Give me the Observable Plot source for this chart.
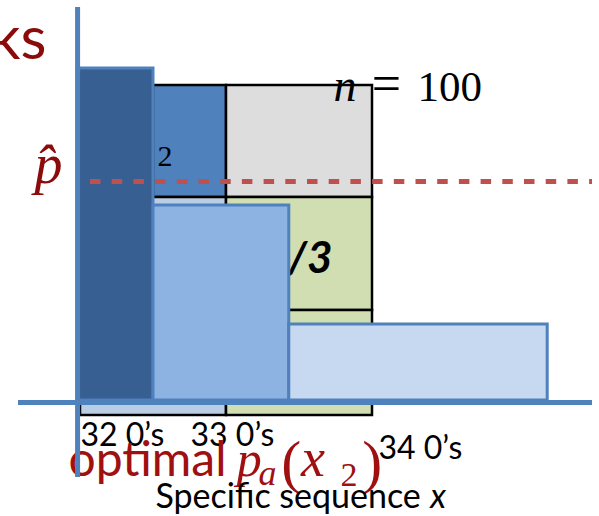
<!DOCTYPE html>
<html>
<head>
<meta charset="utf-8">
<script src="https://cdn.jsdelivr.net/npm/d3@7"></script>
<script src="https://cdn.jsdelivr.net/npm/@observablehq/plot@0.6"></script>
<style>
  body { margin: 0; background: white; }
</style>
</head>
<body>
<div id="chart"></div>
<script>
// ---- data (diagram units: x = grid columns, y = bar height) ----
const barLabels  = ["32 0’s", "33 0’s", "34 0’s"];
const barStart   = [-0.04, 1, 2.86];
const barEnd     = [1, 2.86, 6.4];
const barHeight  = [3.32, 1.95, 0.76];
const barColors  = ["#375F92", "#8DB3E2", "#C6D9F1"];

const pHat = 2.19;

// grid cells behind the bars: [x1, x2, y1, y2]
const cellX1 = [0, 1, 2, 0, 2, 2];
const cellX2 = [1, 2, 4, 2, 4, 4];
const cellY1 = [2.03, 2.03, 2.03, -0.15, 0.9, -0.15];
const cellY2 = [3.15, 3.15, 3.15, 2.03, 2.03, 0.9];
const cellColors = ["#4F81BD", "#4F81BD", "#DDDDDD", "#B9CDE5", "#D1DEB1", "#D1DEB1"];

const labelX = [0, 1.507, 4.082];
const labelY = [-0.45, -0.45, -0.58];

// ---- tables built from the arrays ----
const bars = barLabels.map((label, i) => ({label, x1: barStart[i], x2: barEnd[i], h: barHeight[i], fill: barColors[i]}));
const cells = cellX1.map((x1, i) => ({x1, x2: cellX2[i], y1: cellY1[i], y2: cellY2[i], fill: cellColors[i]}));
const ticks = barLabels.map((t, i) => ({t, x: labelX[i], y: labelY[i]}));

const serif = "'Liberation Serif', 'DejaVu Serif', serif";
const sans = "Lato, 'Open Sans', sans-serif";

const plot = Plot.plot({
  width: 599,
  height: 516,
  margin: 0,
  x: {type: "linear", domain: [0, 4], range: [80, 372], axis: null},
  y: {type: "linear", domain: [0, 3], range: [400, 100], axis: null},
  color: {type: "identity"},
  marks: [
    // grid of cells
    Plot.rect(cells, {x1: "x1", x2: "x2", y1: "y1", y2: "y2", fill: "fill", stroke: "black", strokeWidth: 2.5}),
    // texts in the grid
    Plot.text([{t: "2", x: 1.055, y: 2.35}], {x: "x", y: "y", text: "t", textAnchor: "start", lineAnchor: "bottom", fontFamily: serif, fontSize: 30, fill: "black"}),
    Plot.text([{t: "1/3", x: 3.452, y: 1.28}], {x: "x", y: "y", text: "t", textAnchor: "end", lineAnchor: "bottom", fontFamily: sans, fontSize: 44, fontWeight: "bold", fontStyle: "italic", fill: "black"}),
    Plot.text([{t: "n", x: 3.466, y: 3.0}], {x: "x", y: "y", text: "t", textAnchor: "start", lineAnchor: "bottom", fontFamily: serif, fontSize: 46, fontStyle: "italic", fill: "black"}),
    Plot.text([{t: "=", x: 3.99, y: 3.0, s: 52}, {t: "100", x: 4.616, y: 3.0, s: 43}], {x: "x", y: "y", text: "t", fontSize: "s", textAnchor: "start", lineAnchor: "bottom", fontFamily: serif, fill: "black"}),
    // bars
    Plot.rect(bars, {x1: "x1", x2: "x2", y1: 0, y2: "h", fill: "fill", stroke: "#4F81BD", strokeWidth: 3, ariaLabel: "bars"}),
    // p-hat threshold
    Plot.ruleY([pHat], {x1: 0.137, x2: 7.014, stroke: "#C0504D", strokeWidth: 5, strokeDasharray: "10.5,11.2"}),
    Plot.text([{t: "p̂", x: -0.63, y: 2.18}], {x: "x", y: "y", text: "t", textAnchor: "start", lineAnchor: "bottom", fontFamily: serif, fontSize: 56, fontStyle: "italic", fill: "#8B0A0A"}),
    // title fragment
    Plot.text([{t: "ks", x: -0.465, y: 3.42}], {x: "x", y: "y", text: "t", textAnchor: "end", lineAnchor: "bottom", fontFamily: sans, fontSize: 60, fill: "#8B0A0A"}),
    // tick labels
    Plot.text(ticks, {x: "x", y: "y", text: "t", textAnchor: "start", lineAnchor: "bottom", fontFamily: sans, fontSize: 32, fill: "black"}),
    // optimal p_a(x_2)
    Plot.text([{t: "optimal", x: 2.0, y: -0.75}], {x: "x", y: "y", text: "t", textAnchor: "end", lineAnchor: "bottom", fontFamily: sans, fontSize: 48, fill: "#A01010"}),
    Plot.text([{t: "p", x: 2.14, y: -0.75, s: 50}, {t: "a", x: 2.44, y: -0.84, s: 36}, {t: "x", x: 3.02, y: -0.75, s: 54}],
      {x: "x", y: "y", text: "t", fontSize: "s", textAnchor: "start", lineAnchor: "bottom", fontFamily: serif, fontStyle: "italic", fill: "#A01010"}),
    Plot.text([{t: "(", x: 2.75, y: -0.81, s: 60}, {t: "2", x: 3.56, y: -0.855, s: 34}, {t: ")", x: 3.86, y: -0.81, s: 60}],
      {x: "x", y: "y", text: "t", fontSize: "s", textAnchor: "start", lineAnchor: "bottom", fontFamily: serif, fill: "#A01010"}),
    // axis title
    Plot.text([{t: "Specific sequence", x: 1.027, y: -1.07}], {x: "x", y: "y", text: "t", textAnchor: "start", lineAnchor: "bottom", fontFamily: sans, fontSize: 34, fill: "black"}),
    Plot.text([{t: "x", x: 4.79, y: -1.07}], {x: "x", y: "y", text: "t", textAnchor: "start", lineAnchor: "bottom", fontFamily: sans, fontSize: 34, fontStyle: "italic", fill: "black"}),
    // axes
    Plot.ruleX([-0.04], {y1: -0.77, y2: 3.93, stroke: "#4F81BD", strokeWidth: 5, ariaLabel: "axisv"}),
    Plot.ruleY([-0.02], {x1: -0.849, x2: 7.014, stroke: "#4F81BD", strokeWidth: 5, ariaLabel: "axish"})
  ]
});

d3.select(plot).selectAll('g[aria-label="bars"] rect').style("filter", "drop-shadow(3px 3px 3px rgba(0,0,0,0.35))");
d3.select(plot).selectAll('g[aria-label="axish"], g[aria-label="axisv"]').style("filter", "drop-shadow(2px 3px 3px rgba(0,0,0,0.3))");
document.getElementById("chart").appendChild(plot);
</script>
</body>
</html>
